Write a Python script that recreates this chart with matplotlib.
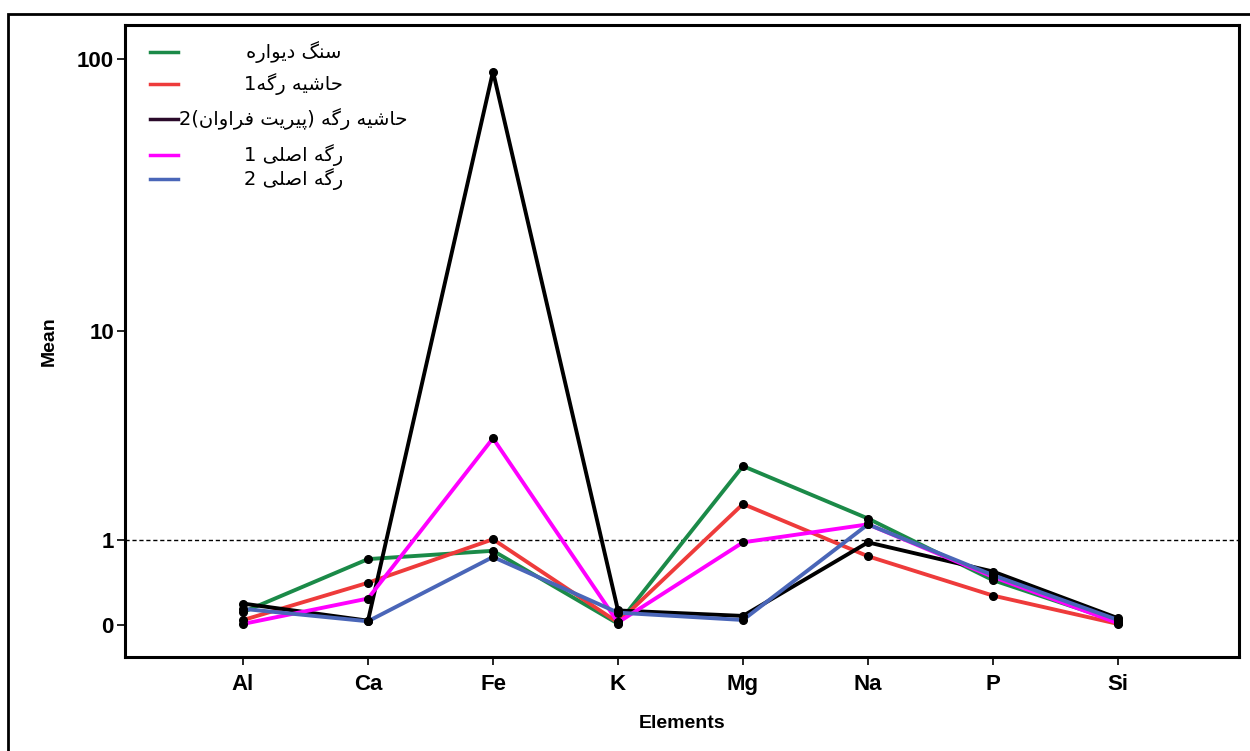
import numpy as np
import matplotlib
matplotlib.use("Agg")
import matplotlib.pyplot as plt
from matplotlib.lines import Line2D
from matplotlib.patches import Rectangle

# ---------------------- DATA ----------------------
elements = ["Al", "Ca", "Fe", "K", "Mg", "Na", "P", "Si"]

wall_rock = [0.11, 0.71, 0.83, 0.01, 2.65, 1.38, 0.44, 0.027]
vein_margin_1 = [0.04, 0.41, 1.01, 0.02, 1.68, 0.75, 0.27, 0.008]
vein_margin_2 = [0.19, 0.035, 90.0, 0.125, 0.076, 0.96, 0.545, 0.056]
main_vein_1 = [0.008, 0.24, 3.58, 0.02, 0.96, 1.27, 0.48, 0.014]
main_vein_2 = [0.14, 0.03, 0.74, 0.105, 0.041, 1.27, 0.50, 0.041]

labels = [
    "سنگ دیواره",
    "حاشیه رگه1",
    "حاشیه رگه (پیریت فراوان)2",
    "رگه اصلی 1",
    "رگه اصلی 2",
]
colors = ["#1b8a48", "#ee3b3b", "#000000", "#ff00ff", "#4a66b8"]
legend_colors = ["#1b8a48", "#ee3b3b", "#2a0a2a", "#ff00ff", "#4a66b8"]
series = [wall_rock, vein_margin_1, vein_margin_2, main_vein_1, main_vein_2]
draw_order = [0, 1, 3, 4, 2]

# ---------------------- Persian shaping ----------------------
# (isolated, final, initial, medial); right-joining letters have no initial/medial
FORMS = {
    "ا": ("\uFE8D", "\uFE8E", None, None),
    "د": ("\uFEA9", "\uFEAA", None, None),
    "ر": ("\uFEAD", "\uFEAE", None, None),
    "و": ("\uFEED", "\uFEEE", None, None),
    "پ": ("\uFB56", "\uFB57", "\uFB58", "\uFB59"),
    "ت": ("\uFE95", "\uFE96", "\uFE97", "\uFE98"),
    "ح": ("\uFEA1", "\uFEA2", "\uFEA3", "\uFEA4"),
    "س": ("\uFEB1", "\uFEB2", "\uFEB3", "\uFEB4"),
    "ش": ("\uFEB5", "\uFEB6", "\uFEB7", "\uFEB8"),
    "ص": ("\uFEB9", "\uFEBA", "\uFEBB", "\uFEBC"),
    "ف": ("\uFED1", "\uFED2", "\uFED3", "\uFED4"),
    "ل": ("\uFEDD", "\uFEDE", "\uFEDF", "\uFEE0"),
    "ن": ("\uFEE5", "\uFEE6", "\uFEE7", "\uFEE8"),
    "ه": ("\uFEE9", "\uFEEA", "\uFEEB", "\uFEEC"),
    "ی": ("\uFBFC", "\uFBFD", "\uFBFE", "\uFBFF"),
    "گ": ("\uFB92", "\uFB93", "\uFB94", "\uFB95"),
}
MIRROR = {"(": ")", ")": "("}


def to_visual(text):
    out = []
    for i, ch in enumerate(text):
        if ch not in FORMS:
            out.append(MIRROR.get(ch, ch))
            continue
        prev = text[i - 1] if i > 0 else ""
        nxt = text[i + 1] if i + 1 < len(text) else ""
        join_prev = prev in FORMS and FORMS[prev][2] is not None
        join_next = FORMS[ch][2] is not None and nxt in FORMS
        iso, fin, ini, med = FORMS[ch]
        if join_prev and join_next:
            out.append(med)
        elif join_prev:
            out.append(fin)
        elif join_next:
            out.append(ini)
        else:
            out.append(iso)
    return "".join(reversed(out))


# ---------------------- SCALE ----------------------
def fwd(y):
    return np.log10(np.clip(np.asarray(y, dtype=float) + 1, 1e-9, None))


def inv(v):
    return 10 ** np.asarray(v, dtype=float) - 1


plt.rcParams["font.family"] = ["Liberation Sans", "DejaVu Sans"]

fig = plt.figure(figsize=(12.5, 7.51), dpi=100)
ax = fig.add_axes([0.1, 0.1252, 0.8912, 0.8415])

x = np.arange(len(elements))
for i in draw_order:
    ax.plot(x, series[i], color=colors[i], linewidth=2.8, zorder=2 + i * 0.1)
for i in draw_order:
    ax.plot(x, series[i], linestyle="none", marker="o", markersize=5.5,
            color="black", zorder=4)

ax.set_yscale("function", functions=(fwd, inv))
ax.set_ylim(-0.23, 132)
ax.set_xlim(-0.944, 7.968)
ax.axhline(1, color="black", linestyle=(0, (3, 2)), linewidth=1.0, zorder=1)

ax.set_yticks([0, 1, 10, 100])
ax.set_yticklabels(["0", "1", "10", "100"])
ax.minorticks_off()
ax.set_xticks(x)
ax.set_xticklabels(elements)
ax.tick_params(axis="both", direction="out", length=6, width=1.2,
               labelsize=16, pad=2)
ax.tick_params(axis="x", pad=6)
for t in ax.get_xticklabels() + ax.get_yticklabels():
    t.set_fontweight("bold")

for s in ax.spines.values():
    s.set_linewidth(2.2)

ax.set_xlabel("Elements", fontsize=14, fontweight="bold", labelpad=15)
ax.set_ylabel("Mean", fontsize=14, fontweight="bold", labelpad=14)

# legend drawn by hand so the Persian labels can be centred like the original
rows_y = [0.957, 0.9066, 0.851, 0.794, 0.756]
for lab, col, ry in zip(labels, legend_colors, rows_y):
    ax.add_line(Line2D([0.0224, 0.0476], [ry, ry], color=col, linewidth=2.5,
                       transform=ax.transAxes))
    ax.text(0.151, ry, to_visual(lab), transform=ax.transAxes, ha="center",
            va="center", fontsize=14, family=["DejaVu Sans"])

# outer frame around the whole picture
fig.patches.append(Rectangle((0.0064, -0.05), 1.1, 0.0314 + 1.0, fill=False,
                             edgecolor="black", linewidth=2,
                             transform=fig.transFigure, figure=fig))

fig.savefig("out.png", dpi=100)
